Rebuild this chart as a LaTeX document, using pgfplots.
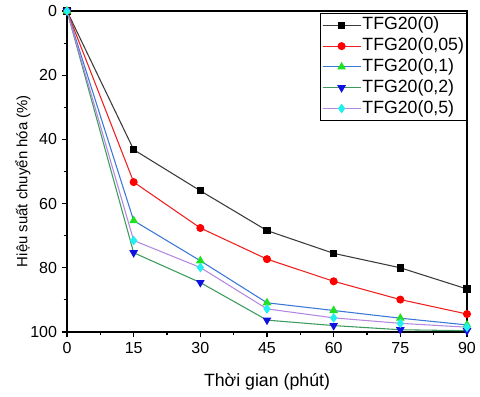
\documentclass[border=0pt]{standalone}
\usepackage{pgfplots}
\pgfplotsset{compat=1.18}
\usepackage{fontspec}
\setmainfont{Liberation Sans}
\definecolor{cgray}{HTML}{3A3A3A}
\definecolor{cred}{HTML}{F02020}
\definecolor{cblue}{HTML}{3A78D8}
\definecolor{cgreen}{HTML}{3C9A5C}
\definecolor{cviolet}{HTML}{B488E0}
\definecolor{mgreen}{HTML}{20E020}
\definecolor{mblue}{HTML}{1010E0}
\definecolor{mcyan}{HTML}{20F0F0}
\begin{document}
\begin{tikzpicture}
\useasboundingbox (-50.25pt,-48.75pt) rectangle (309.75pt,249pt);
\begin{axis}[
  scale only axis, width=300pt, height=240.75pt,
  at={(0,0)}, anchor=south west,
  xmin=0, xmax=90, ymin=0, ymax=100,
  y dir=reverse,
  xtick={0,15,30,45,60,75,90},
  ytick={0,20,40,60,80,100},
  minor x tick num=1, minor y tick num=1,
  tick align=outside,
  xtick pos=bottom, ytick pos=left,
  axis line style={line width=0.9pt},
  major tick length=4pt, minor tick length=2.5pt,
  every tick/.style={line width=0.8pt, black},
  /pgf/number format/assume math mode=true,
  tick label style={font=\fontsize{12}{14}\selectfont},
  xlabel={Thời gian (phút)},
  ylabel={Hiệu suất chuyển hóa (\%)},
  xlabel style={font=\fontsize{13.3}{15}\selectfont, yshift=-8pt},
  ylabel style={font=\fontsize{11.2}{13}\selectfont, at={(ticklabel cs:0.47)}},
  ylabel shift=-7pt,
  legend style={at={(rel axis cs:1,0.994)}, anchor=north east, draw=black, line width=0.6pt,
    font=\fontsize{13.3}{15}\selectfont, row sep=0.6pt, inner xsep=1pt, inner ysep=1.5pt,
    nodes={inner ysep=0pt, inner xsep=1pt, text height=11pt, text depth=4pt}},
  legend cell align=left,
  legend image code/.code={\draw[#1] (0cm,0cm) -- (1.0cm,0cm); \draw[#1,mark repeat=2,mark phase=2] plot coordinates {(0cm,0cm) (0.5cm,0cm) (1.0cm,0cm)};},
]
\addplot[cgray, line width=0.8pt, mark=square*, mark size=2.4pt, mark options={black, fill=black, solid}]
  coordinates {(0,0) (15,43.2) (30,56) (45,68.4) (60,75.5) (75,80) (90,86.6)};
\addlegendentry{TFG20(0)}
\addplot[cred, line width=0.8pt, mark=*, mark size=2.6pt, mark options={red, fill=red}]
  coordinates {(0,0) (15,53.3) (30,67.6) (45,77.3) (60,84.2) (75,89.9) (90,94.4)};
\addlegendentry{TFG20(0,05)}
\addplot[cblue, line width=0.8pt, mark=triangle*, mark size=3pt, mark options={mgreen, fill=mgreen}]
  coordinates {(0,0) (15,65.3) (30,77.8) (45,90.9) (60,93.3) (75,95.7) (90,97.8)};
\addlegendentry{TFG20(0,1)}
\addplot[cgreen, line width=0.8pt, mark=triangle*, mark size=3pt, mark options={mblue, fill=mblue, rotate=180}]
  coordinates {(0,0) (15,75.3) (30,84.6) (45,96.3) (60,98.0) (75,99.3) (90,99.6)};
\addlegendentry{TFG20(0,2)}
\addplot[cviolet, line width=0.8pt, mark=diamond*, mark size=3pt, mark options={mcyan, fill=mcyan}]
  coordinates {(0,0) (15,71.5) (30,79.9) (45,92.8) (60,95.6) (75,97.3) (90,98.5)};
\addlegendentry{TFG20(0,5)}
\end{axis}
\end{tikzpicture}
\end{document}
